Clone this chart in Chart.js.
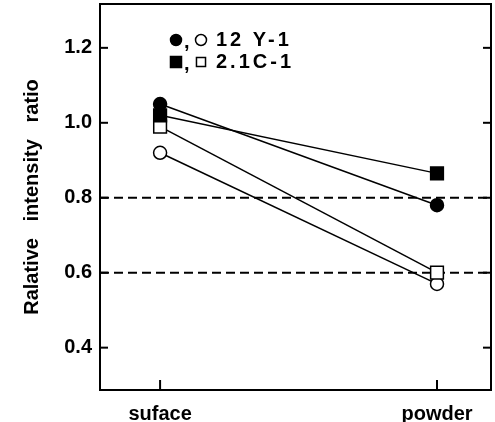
<!DOCTYPE html>
<html>
<head>
<meta charset="utf-8">
<script src="https://cdn.jsdelivr.net/npm/chart.js@4/dist/chart.umd.min.js"></script>
<style>
    html, body { margin: 0; padding: 0; background: #fff; }
    #wrap { width: 495px; height: 422px; }
</style>
</head>
<body>
<div id="wrap"><canvas id="chart" width="495" height="422"></canvas></div>
<script>
const categories = ['suface', 'powder'];
const yTicks = [0.4, 0.6, 0.8, 1.0, 1.2];
const dashedLevels = [0.8, 0.6];

// 12 Y-1 (circles), 2.1C-1 (squares); filled / open
const filledCircle12Y = [1.05, 0.78];
const filledSquare21C = [1.02, 0.865];
const openSquare21C = [0.99, 0.60];
const openCircle12Y = [0.92, 0.57];

const legendLabels = ['12 Y-1', '2.1C-1'];

const FONT = '"Liberation Sans", Arial, Helvetica, sans-serif';
Chart.defaults.font.family = FONT;
Chart.defaults.color = '#000';

function series(label, values, style, filled) {
    return {
        label,
        data: values.map((y, i) => ({ x: i, y })),
        borderColor: '#000',
        borderWidth: 1.5,
        pointStyle: style,
        pointRadius: style === 'rect' ? 9 : 6.5,
        pointBorderWidth: 1.5,
        pointBackgroundColor: filled ? '#000' : '#fff',
        pointBorderColor: '#000',
        tension: 0
    };
}

const datasets = [
    series('12 Y-1 filled', filledCircle12Y, 'circle', true),
    series('2.1C-1 filled', filledSquare21C, 'rect', true),
    series('2.1C-1 open', openSquare21C, 'rect', false),
    series('12 Y-1 open', openCircle12Y, 'circle', false)
];

// frame, dashed reference lines, inward ticks and the in-plot key
const framePlugin = {
    id: 'frame',
    beforeDatasetsDraw(chart) {
        const { ctx, chartArea: a, scales: { x, y } } = chart;
        const line = (x1, y1, x2, y2) => {
            ctx.beginPath();
            ctx.moveTo(x1, y1);
            ctx.lineTo(x2, y2);
            ctx.stroke();
        };
        ctx.save();
        ctx.strokeStyle = '#000';
        ctx.lineWidth = 2;
        ctx.setLineDash([9, 5]);
        dashedLevels.forEach(v => {
            const py = y.getPixelForValue(v);
            line(a.left, py, a.right, py);
        });
        ctx.setLineDash([]);
        ctx.strokeRect(a.left, a.top, a.right - a.left, a.bottom - a.top);
        yTicks.forEach(v => {
            const py = y.getPixelForValue(v);
            line(a.left, py, a.left + 8, py);
            line(a.right, py, a.right - 8, py);
        });
        categories.forEach((c, i) => {
            const px = x.getPixelForValue(i);
            line(px, a.bottom, px, a.bottom - 10);
        });
        ctx.restore();
    },
    afterDraw(chart) {
        const { ctx, chartArea: a } = chart;
        const ds = chart.data.datasets;
        const rows = [
            { label: legendLabels[0], marks: [[ds[0], 5.5], [ds[3], 5.5]] },
            { label: legendLabels[1], marks: [[ds[1], 7.8], [ds[2], 6.4]] }
        ];
        ctx.save();
        rows.forEach((row, r) => {
            const cy = a.top + 36 + r * 22;
            row.marks.forEach(([d, radius], k) => {
                const cx = 176 + k * 25;
                ctx.fillStyle = d.pointBackgroundColor;
                ctx.strokeStyle = '#000';
                ctx.lineWidth = 1.5;
                Chart.helpers.drawPoint(ctx, { pointStyle: d.pointStyle, radius, borderWidth: 1.5, rotation: 0 }, cx, cy);
            });
            ctx.fillStyle = '#000';
            ctx.font = 'bold 20px ' + FONT;
            ctx.textBaseline = 'middle';
            ctx.textAlign = 'left';
            ctx.fillText(',', 184, cy + 2);
            ctx.letterSpacing = '3px';
            ctx.fillText(row.label, 216, cy);
            ctx.letterSpacing = '0px';
        });
        ctx.restore();
    }
};

new Chart(document.getElementById('chart'), {
    type: 'line',
    data: { datasets },
    options: {
        responsive: false,
        animation: false,
        devicePixelRatio: 1,
        layout: { autoPadding: false, padding: { top: 4, right: 4, left: 0, bottom: 0 } },
        plugins: { legend: { display: false }, tooltip: { enabled: false } },
        scales: {
            x: {
                type: 'linear',
                min: -0.217,
                max: 1.195,
                afterBuildTicks: s => { s.ticks = categories.map((c, i) => ({ value: i })); },
                afterFit: s => { s.height = 32; s.paddingLeft = 0; s.paddingRight = 0; },
                ticks: {
                    callback: v => categories[v],
                    font: { size: 20, weight: 'bold' },
                    color: '#000',
                    padding: 12,
                    autoSkip: false,
                    maxRotation: 0
                },
                grid: { display: false, drawTicks: false },
                border: { display: false }
            },
            y: {
                min: 0.287,
                max: 1.317,
                afterBuildTicks: s => { s.ticks = yTicks.map(v => ({ value: v })); },
                afterFit: s => { s.width = 100; s.paddingTop = 0; s.paddingBottom = 0; },
                ticks: {
                    callback: v => v.toFixed(1),
                    font: { size: 20, weight: 'bold' },
                    color: '#000',
                    padding: 8
                },
                title: {
                    display: true,
                    text: 'Ralative   intensity   ratio',
                    font: { size: 20, weight: 'bold' },
                    color: '#000',
                    padding: { top: 20, bottom: 0 }
                },
                grid: { display: false, drawTicks: false },
                border: { display: false }
            }
        }
    },
    plugins: [framePlugin]
});
</script>
</body>
</html>
